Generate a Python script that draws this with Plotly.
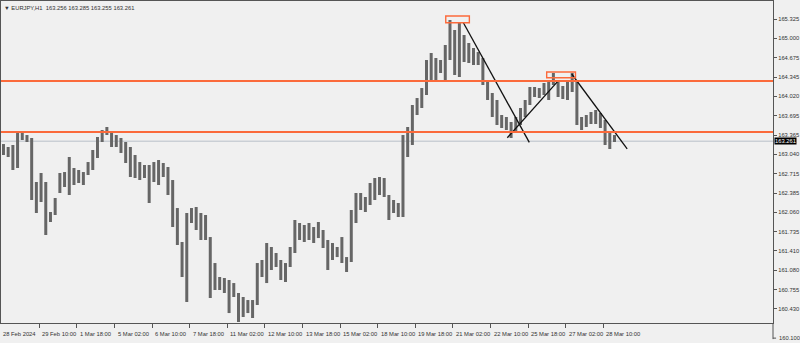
import plotly.graph_objects as go

# ---------------- data (EURJPY H1, aggregated to 4-hour bars) ----------------
hi = [163.213, 163.163, 163.197, 163.399, 163.433, 163.365, 163.315, 162.572, 162.724, 162.572,
      162.065, 162.301, 162.724, 162.740, 162.994, 162.808, 162.774, 162.740, 162.909, 163.112,
      163.332, 163.450, 163.501, 163.416, 163.365, 163.315, 163.247, 163.163, 163.028, 162.909,
      162.859, 162.859, 162.909, 162.943, 162.893, 162.825, 162.605, 162.132, 161.558, 162.048,
      162.132, 162.149, 162.048, 162.014, 161.642, 161.203, 160.967, 160.950, 160.916, 160.865,
      160.697, 160.629, 160.578, 160.578, 161.203, 161.254, 161.541, 161.474, 161.372, 161.254,
      161.203, 161.474, 161.930, 161.879, 161.845, 161.879, 161.811, 161.896, 161.761, 161.592,
      161.541, 161.474, 161.642, 161.304, 162.099, 162.386, 162.386, 162.318, 162.555, 162.639,
      162.656, 162.639, 162.352, 162.268, 162.217, 163.365, 163.501, 163.872, 163.990, 164.159,
      164.632, 164.751, 164.666, 164.632, 164.886, 165.308, 165.139, 165.274, 165.055, 164.920,
      164.835, 164.767, 164.666, 164.295, 164.075, 163.957, 163.703, 163.670, 163.585, 163.670,
      163.822, 163.957, 164.176, 164.176, 164.159, 164.244, 164.295, 164.413, 164.261, 164.193,
      164.295, 164.413, 164.295, 163.670, 163.703, 163.754, 163.788, 163.737, 163.619, 163.416,
      163.365]
lo = [163.028, 162.994, 162.774, 162.808, 163.281, 163.247, 162.268, 162.048, 162.234, 161.676,
      161.896, 162.014, 162.386, 162.487, 162.352, 162.521, 162.555, 162.521, 162.690, 162.774,
      162.977, 163.247, 163.365, 163.163, 163.163, 163.062, 162.893, 162.656, 162.639, 162.605,
      162.639, 162.217, 162.572, 162.521, 162.656, 162.352, 161.811, 161.507, 160.967, 160.545,
      161.879, 161.761, 161.592, 161.592, 160.612, 160.747, 160.747, 160.697, 160.358, 160.629,
      160.207, 160.291, 160.358, 160.274, 160.494, 160.967, 160.865, 161.085, 161.136, 160.916,
      160.882, 161.136, 161.372, 161.592, 161.558, 161.592, 161.541, 161.625, 161.457, 161.085,
      161.254, 161.304, 161.203, 161.051, 161.220, 161.879, 162.099, 162.065, 162.183, 162.268,
      162.352, 162.318, 161.930, 162.048, 161.980, 161.980, 162.994, 163.197, 163.703, 163.822,
      164.041, 164.295, 164.261, 164.413, 164.295, 164.632, 164.379, 164.345, 164.599, 164.582,
      164.548, 164.548, 164.210, 163.957, 163.670, 163.534, 163.484, 163.450, 163.315, 163.416,
      163.534, 163.670, 163.872, 164.007, 163.990, 164.041, 163.957, 164.210, 164.007, 163.974,
      163.957, 164.092, 163.534, 163.450, 163.501, 163.551, 163.551, 163.484, 163.197, 163.129,
      163.247]
cl = [163.112, 163.078, 162.859, 163.349, 163.349, 163.315, 162.436, 162.183, 162.521, 162.014,
      162.014, 162.268, 162.639, 162.605, 162.740, 162.673, 162.639, 162.707, 162.859, 163.028,
      163.281, 163.399, 163.399, 163.281, 163.281, 163.146, 163.028, 162.859, 162.774, 162.740,
      162.774, 162.690, 162.774, 162.740, 162.774, 162.521, 162.014, 161.761, 161.169, 161.930,
      162.014, 162.014, 161.845, 161.676, 160.916, 161.000, 160.882, 160.832, 160.747, 160.713,
      160.494, 160.494, 160.477, 160.409, 161.119, 161.085, 161.338, 161.287, 161.220, 161.085,
      161.119, 161.389, 161.794, 161.761, 161.676, 161.761, 161.676, 161.761, 161.592, 161.423,
      161.423, 161.389, 161.338, 161.220, 162.014, 162.268, 162.268, 162.234, 162.436, 162.521,
      162.572, 162.403, 162.183, 162.183, 162.099, 163.197, 163.281, 163.788, 163.872, 164.041,
      164.548, 164.548, 164.463, 164.548, 164.801, 164.970, 164.886, 164.970, 164.801, 164.717,
      164.666, 164.632, 164.261, 164.041, 163.788, 163.653, 163.585, 163.534, 163.484, 163.619,
      163.754, 163.872, 164.092, 164.092, 164.126, 164.159, 164.210, 164.261, 164.126, 164.092,
      164.210, 164.295, 163.653, 163.585, 163.619, 163.653, 163.703, 163.585, 163.315, 163.281,
      163.261]
first_open = 163.15
bar_hours = 4                       # each bar spans 4 hourly slots

# horizontal levels, current price, trend lines and boxes (bar index in hours, price)
levels = [164.278, 163.416]
current_price = 163.261
trend_x = [[392.9, 449.0], [430.3, 473.0], [485.1, 532.3]]
trend_y = [[165.262, 163.242], [163.320, 164.266], [164.396, 163.132]]
boxes_x = [[377.9, 398.0], [463.8, 488.3]]
boxes_y = [[165.262, 165.376], [164.333, 164.430]]

# axis labels
x_tick_idx = [32, 64, 96, 128, 160, 192, 224, 256, 288, 320, 352, 384, 416, 448, 480, 512]
x_tick_txt = ["29 Feb 10:00", "1 Mar 18:00", "5 Mar 02:00", "6 Mar 10:00", "7 Mar 18:00",
              "11 Mar 02:00", "12 Mar 10:00", "13 Mar 18:00", "15 Mar 02:00", "18 Mar 10:00",
              "19 Mar 18:00", "21 Mar 02:00", "22 Mar 10:00", "25 Mar 18:00", "27 Mar 02:00",
              "28 Mar 10:00"]
first_label = "28 Feb 2024"
y_ticks = [165.325, 165.000, 164.675, 164.345, 164.020, 163.695, 163.365, 163.040, 162.715,
           162.385, 162.060, 161.735, 161.410, 161.080, 160.755, 160.430]
bottom_label = "160.100"
title_text = "▼ EURJPY,H1  163.256 163.285 163.255 163.261"

# ---------------- figure ----------------
op = [first_open] + cl[:-1]
bar_x = [bar_hours * k + (bar_hours - 1) / 2 for k in range(len(hi))]

FONT = "Liberation Sans"
TXT = "#333333"
FRAME = "#555555"
BAR = "#666666"
ORANGE = "#fb6a3b"

fig = go.Figure()
fig.add_trace(go.Ohlc(
    x=bar_x, open=op, high=hi, low=lo, close=cl,
    increasing=dict(line=dict(color=BAR, width=3)),
    decreasing=dict(line=dict(color=BAR, width=3)),
    tickwidth=0, showlegend=False, hoverinfo="skip"))

for tx, ty in zip(trend_x, trend_y):
    fig.add_trace(go.Scatter(x=tx, y=ty, mode="lines",
                             line=dict(color="#111111", width=1.3),
                             showlegend=False, hoverinfo="skip"))

shapes = []
for lv in levels:
    shapes.append(dict(type="line", xref="paper", x0=0, x1=1, yref="y", y0=lv, y1=lv,
                       line=dict(color=ORANGE, width=2), layer="above"))
shapes.append(dict(type="line", xref="paper", x0=0, x1=1, yref="y",
                   y0=current_price, y1=current_price,
                   line=dict(color="#b9bfc8", width=1), layer="below"))
for bx, by in zip(boxes_x, boxes_y):
    shapes.append(dict(type="rect", xref="x", yref="y", x0=bx[0], x1=bx[1], y0=by[0], y1=by[1],
                       line=dict(color=ORANGE, width=1.4), fillcolor="rgba(0,0,0,0)"))
# price-scale separator continues into the time-scale row
shapes.append(dict(type="line", xref="paper", yref="paper", x0=1, x1=1, y0=0, y1=-0.05,
                   line=dict(color=FRAME, width=1)))
shapes.append(dict(type="line", xref="paper", yref="paper", x0=1, x1=1.004, y0=-0.047, y1=-0.047,
                   line=dict(color=FRAME, width=1)))

annotations = []
for idx, txt in zip(x_tick_idx, x_tick_txt):
    annotations.append(dict(x=idx, xref="x", y=-0.034, yref="paper", text=txt, showarrow=False,
                            xanchor="left", yanchor="middle", xshift=1,
                            font=dict(family=FONT, size=5.8, color=TXT)))
annotations.append(dict(x=0, xref="x", y=-0.034, yref="paper", text=first_label, showarrow=False,
                        xanchor="left", yanchor="middle", xshift=-1,
                        font=dict(family=FONT, size=5.8, color=TXT)))
annotations.append(dict(x=1.005, xref="paper", y=-0.047, yref="paper", text=bottom_label,
                        showarrow=False, xanchor="left", yanchor="middle",
                        font=dict(family=FONT, size=5.8, color=TXT)))
annotations.append(dict(x=1.001, xref="paper", y=current_price, yref="y",
                        text=f"{current_price:.3f}", showarrow=False, xanchor="left",
                        yanchor="middle", bgcolor="#000000", borderpad=0,
                        font=dict(family=FONT, size=5.8, color="#ffffff")))
annotations.append(dict(x=0, xref="paper", y=1, yref="paper", text=title_text, showarrow=False,
                        xanchor="left", yanchor="top", xshift=1, yshift=-2,
                        font=dict(family=FONT, size=5.8, color=TXT)))

fig.update_layout(
    width=800, height=343, autosize=False,
    margin=dict(l=1, r=27, t=1, b=20),
    paper_bgcolor="#f0f0f0", plot_bgcolor="#f0f0f0",
    shapes=shapes, annotations=annotations,
    xaxis=dict(range=[-0.6, 656.4], showgrid=False, zeroline=False,
               rangeslider=dict(visible=False),
               tickmode="array", tickvals=x_tick_idx, showticklabels=False,
               ticks="outside", ticklen=4, tickcolor=FRAME,
               showline=True, linecolor=FRAME, linewidth=1, mirror=True),
    yaxis=dict(range=[160.190, 165.629], side="right", showgrid=False, zeroline=False,
               tickmode="array", tickvals=y_ticks, ticktext=[f"{v:.3f}" for v in y_ticks],
               ticks="outside", ticklen=3, tickcolor=FRAME,
               tickfont=dict(family=FONT, size=5.8, color=TXT),
               showline=True, linecolor=FRAME, linewidth=1, mirror=True),
)

fig.write_html("out.html")
